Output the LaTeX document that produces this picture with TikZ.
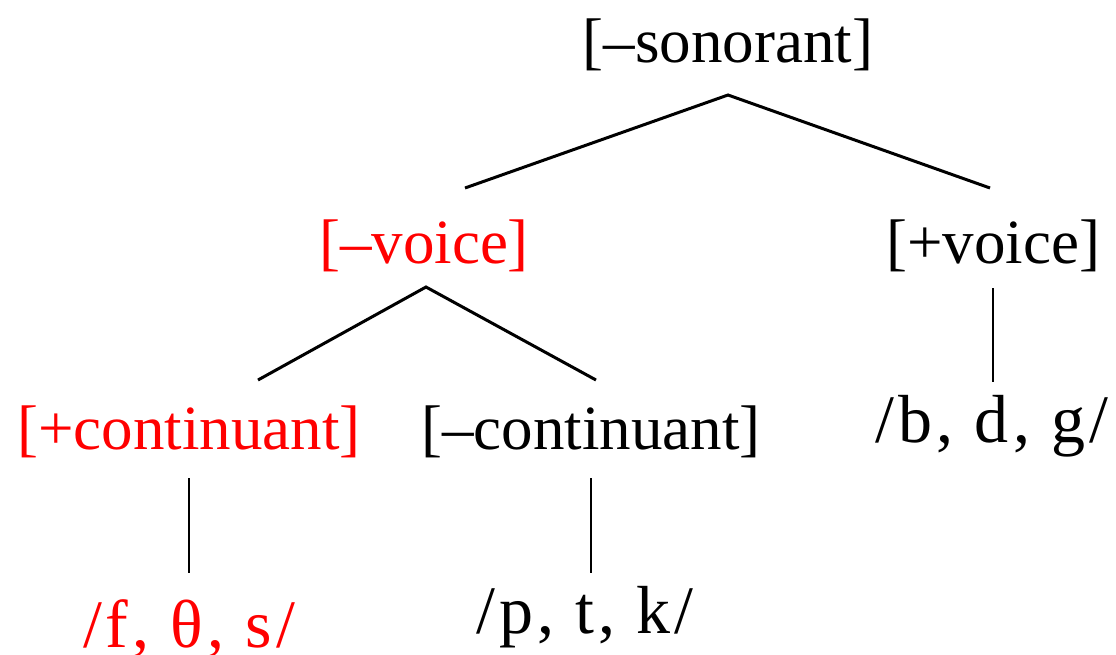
\documentclass[tikz,border=0pt]{standalone}
\usepackage{fontspec}
\setmainfont{Liberation Serif}
\usetikzlibrary{positioning}
\definecolor{feat}{HTML}{FF0000}

\begin{document}
\begin{tikzpicture}[
  x=1pt,y=-1pt,
  lab/.style={anchor=base,inner sep=0pt,font=\fontsize{63}{70}\selectfont},
  hot/.style={lab,text=feat},
  seg/.style={font=\fontsize{68}{74}\selectfont\addfontfeature{LetterSpace=6}},
  branch/.style={line width=3pt},
  stem/.style={line width=1.6pt}
]
\useasboundingbox (0,0) rectangle (1116,654);

% Feature nodes, one row per level.
\node[lab] (son) at (728,62) {[--sonorant]};
\node[hot] (vminus) at (424,263) {[--voice]};
\node[lab] (vplus) at (993,263) {[+voice]};
\node[hot] (cplus) at (189,449) {[+continuant]};
\node[lab] (cminus) at (591,449) {[--continuant]};

% Segment sets at the leaves.
\node[hot,seg] (fric) at (189,647) {/f, θ, s/};
\node[lab,seg] (stops) at (585,633) {/p, t, k/};
\node[lab,seg] (voiced) at (992,442) {/b, d, g/};

% Branches.
\draw[branch] ([xshift=41pt,yshift=75pt]vminus.base) -- ([yshift=-33pt]son.base)
  -- ([xshift=-3pt,yshift=75pt]vplus.base);
\draw[branch] ([xshift=69pt,yshift=69pt]cplus.base) -- ([xshift=2pt,yshift=-24pt]vminus.base)
  -- ([xshift=5pt,yshift=69pt]cminus.base);

% Single daughters.
\draw[stem] ([yshift=-29pt]cplus.base) -- ([yshift=74pt]fric.base);
\draw[stem] ([yshift=-29pt]cminus.base) -- ([xshift=6pt,yshift=60pt]stops.base);
\draw[stem] ([yshift=-25pt]vplus.base) -- ([xshift=1pt,yshift=60pt]voiced.base);

\end{tikzpicture}
\end{document}
